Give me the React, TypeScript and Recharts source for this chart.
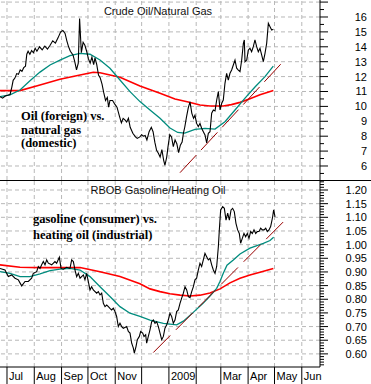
import React from 'react';
import { LineChart, Line, XAxis, YAxis, ReferenceLine } from 'recharts';

// x values are calendar days counted from 1 Jul 2008
const monthStartDays = [0, 31, 62, 92, 123, 153, 184, 215, 243, 274, 304, 335];
const monthLabels = ['Jul', 'Aug', 'Sep', 'Oct', 'Nov', '', '2009', '', 'Mar', 'Apr', 'May', 'Jun'];

const oilGasTickLabels = [6, 7, 8, 9, 10, 11, 12, 13, 14, 15, 16];
const oilGasGridValues = [6, 7, 8, 9, 10, 11, 12, 13, 14, 15, 16, 17];
const gasHeatTickLabels = [0.6, 0.65, 0.7, 0.75, 0.8, 0.85, 0.9, 0.95, 1.0, 1.05, 1.1, 1.15, 1.2];

// Crude Oil / Natural Gas ratio
const oilGasRatio: [number, number][] = [
  [-8, 10.65], [-5, 10.55], [-2, 10.7], [1, 10.75], [3.5, 10.8], [5.5, 11.3], [7, 11.75], [9, 11.9],
  [11, 12.2], [13, 12.15], [15, 12.45], [17, 12.35], [19, 12.6], [21, 12.7], [22.5, 13.5], [24, 13.7],
  [26, 13.5], [28, 13.75], [30, 13.6], [32, 13.9], [34, 13.7], [37, 14.0], [40, 13.8], [43, 14.05],
  [46, 13.85], [49, 14.1], [52, 14.4], [55, 14.25], [58, 14.6], [61, 15.0], [63.5, 15.1], [66, 14.9],
  [68, 14.4], [70, 14.0], [72, 13.7], [75, 13.45], [77, 13.0], [79, 12.45], [81, 12.9], [82.5, 15.9],
  [84.5, 13.6], [86.5, 14.3], [88.5, 14.1], [90.5, 13.7], [92.5, 13.2], [94.5, 12.9], [96.5, 13.3],
  [98.5, 12.8], [100, 13.25], [102, 12.8], [104, 12.1], [106, 11.9], [108, 11.5], [110, 10.9],
  [112, 10.4], [114, 10.6], [115.5, 9.95], [117, 10.4], [120, 10.4], [122.5, 10.15], [125, 9.95],
  [128, 9.3], [130, 8.9], [132, 9.2], [134, 9.1], [136, 8.95], [138, 9.2], [140, 8.6], [143, 8.2],
  [146, 7.95], [148, 7.85], [151, 7.95], [153, 8.1], [155, 8.0], [157, 8.05], [159, 7.75], [161.5, 8.3],
  [164, 8.6], [166, 8.3], [168, 7.6], [170, 7.05], [172, 6.85], [174, 6.6], [176, 7.1], [178, 6.4],
  [179.5, 6.05], [181.5, 6.6], [183, 7.3], [185, 8.1], [187, 7.95], [189, 7.3], [191, 7.75], [193, 7.5],
  [195, 6.9], [197, 7.4], [199, 7.6], [200.5, 8.2], [202, 8.6], [204, 9.3], [206, 9.9], [208, 10.3],
  [210, 9.55], [212, 9.2], [213.6, 9.4], [215.5, 8.86], [217.4, 8.64], [219.3, 8.86], [221.2, 8.53],
  [223.1, 8.3], [225, 8.08], [226.9, 7.55], [228.8, 8.19], [230.7, 8.3], [232.6, 9.54], [234.5, 9.76],
  [236.4, 9.7], [238.3, 10.43], [240.2, 10.99], [242.1, 9.76], [244, 10.21], [245.8, 10.43],
  [247.7, 11.55], [249.6, 12.22], [251.5, 11.77], [253.4, 12.22], [255.3, 12.44], [257.2, 12.78],
  [259.1, 13.11], [261, 12.56], [262.9, 12.44], [264.8, 12.33], [266.7, 13.11], [268.6, 14.23],
  [269.7, 14.46], [270.5, 13.0], [272.4, 13.11], [274.3, 13.79], [276.1, 13.9], [278, 13.67],
  [279.9, 14.01], [281.8, 14.46], [283.7, 14.01], [285.6, 13.67], [287.5, 13.9], [289.4, 13.45],
  [291.3, 13.0], [293.2, 13.56], [295.1, 14.23], [297, 15.58], [298.9, 15.35], [300.8, 15.13], [302.7, 15.17],
];
const oilGasShortAvg: [number, number][] = [
  [-8, 10.65], [3.4, 10.77], [14.8, 11.1], [26.1, 11.72], [37.5, 12.3], [48.9, 12.78], [60.2, 13.11],
  [71.6, 13.41], [83, 13.56], [94.3, 13.5], [105.7, 13.11], [117, 12.56], [128.4, 11.77], [139.8, 10.99],
  [151.1, 10.32], [162.5, 9.76], [173.9, 9.2], [185.2, 8.55], [194, 8.25], [202, 8.2], [213.6, 8.46],
  [225, 8.53], [236.4, 8.48], [247.7, 8.97], [259.1, 9.76], [270.5, 10.55], [281.8, 11.3], [293.2, 12.0],
  [302.6, 12.7],
];
const oilGasLongAvg: [number, number][] = [
  [-8, 11.06], [14.8, 11.06], [37.5, 11.44], [60.2, 11.82], [83, 12.11], [98.1, 12.29], [105.7, 12.26],
  [128.4, 11.95], [151.1, 11.37], [173.9, 10.88], [190.9, 10.5], [206, 10.3], [219.3, 10.09],
  [230.7, 10.03], [245.8, 10.03], [255, 10.12], [264.8, 10.27], [276.1, 10.52], [287.5, 10.78], [302.7, 11.06],
];
const oilGasTrend: [number, number][] = [[196.6, 5.55], [314.8, 13.07]];

// RBOB Gasoline / Heating Oil ratio
const gasHeatRatio: [number, number][] = [
  [-8, 0.913], [-2.3, 0.907], [1.5, 0.883], [5.3, 0.889], [9.1, 0.877], [12.9, 0.871], [16.7, 0.849],
  [20.5, 0.865], [24.2, 0.865], [28, 0.877], [29.9, 0.895], [33.7, 0.901], [35.6, 0.92], [37.5, 0.913],
  [39.4, 0.926], [41.3, 0.938], [43.2, 0.926], [45.1, 0.944], [47, 0.932], [50.8, 0.926], [54.5, 0.938],
  [56.4, 0.932], [59.5, 0.954], [61.4, 0.913], [64, 0.91], [67.8, 0.917], [71.6, 0.913], [73.5, 0.944],
  [75.4, 0.938], [77.3, 0.907], [79.2, 0.883], [81.1, 0.895], [83, 0.877], [86.8, 0.889], [88.6, 0.871],
  [90.5, 0.895], [92.4, 0.865], [94.3, 0.834], [96.2, 0.846], [98.1, 0.834], [101.9, 0.822],
  [103.8, 0.828], [105.7, 0.816], [107.6, 0.822], [109.5, 0.785], [111.4, 0.773], [113.3, 0.779],
  [115.2, 0.773], [117, 0.767], [118.9, 0.761], [120.8, 0.767], [122.7, 0.755], [124.6, 0.737],
  [126.5, 0.7], [128.4, 0.712], [130.3, 0.7], [132.2, 0.694], [136, 0.7], [137.9, 0.682], [139.8, 0.676],
  [141.7, 0.639], [143.6, 0.621], [144.7, 0.603], [146.6, 0.627], [148.1, 0.652], [150.4, 0.664],
  [151.9, 0.682], [154.2, 0.676], [155.7, 0.664], [157.6, 0.67], [158.7, 0.639], [160.6, 0.664],
  [162.5, 0.688], [164.4, 0.718], [166.3, 0.724], [168.2, 0.712], [170.1, 0.718], [172, 0.7],
  [173.9, 0.676], [175.8, 0.652], [177.7, 0.664], [179.5, 0.694], [181.4, 0.706], [183.3, 0.724],
  [185.2, 0.749], [187.1, 0.737], [189, 0.712], [190.9, 0.724], [192.8, 0.755], [194.7, 0.761],
  [196.6, 0.785], [198.5, 0.804], [200.4, 0.822], [202.3, 0.846], [204.2, 0.834], [206.1, 0.81],
  [208, 0.806], [209.9, 0.828], [211.8, 0.846], [213.6, 0.871], [215.5, 0.877], [217.4, 0.907],
  [219.3, 0.932], [221.2, 0.92], [223.1, 0.944], [225, 0.968], [226.9, 0.956], [228.8, 0.944],
  [230.7, 0.95], [232.6, 0.926], [234.5, 0.907], [236.4, 0.895], [238.3, 0.92], [240.2, 0.993],
  [241.3, 1.054], [242.8, 1.127], [245.1, 1.139], [247, 1.133], [248.9, 1.09], [250.8, 1.115],
  [252.7, 1.09], [254.6, 1.127], [256.4, 1.133], [258.3, 1.121], [260.2, 1.078], [262.1, 1.054],
  [264, 1.041], [265.5, 1.005], [267.4, 1.023], [269.3, 1.041], [271.2, 1.029], [273.1, 1.041],
  [275, 1.023], [276.9, 1.048], [278.8, 1.041], [280.7, 1.054], [282.6, 1.041], [284.5, 1.048],
  [286.4, 1.048], [288.3, 1.06], [290.2, 1.054], [292.1, 1.054], [294, 1.06], [295.8, 1.048],
  [297.7, 1.054], [299.6, 1.066], [300.8, 1.084], [301.9, 1.102], [303, 1.127], [304.6, 1.102],
];
const gasHeatShortAvg: [number, number][] = [
  [-8, 0.901], [3.4, 0.895], [14.8, 0.883], [26.1, 0.883], [37.5, 0.893], [48.9, 0.905], [60.2, 0.91],
  [71.6, 0.913], [83, 0.907], [94.3, 0.883], [105.7, 0.846], [117, 0.81], [128.4, 0.773], [139.8, 0.749],
  [151.1, 0.737], [162.5, 0.724], [177.7, 0.712], [192.8, 0.706], [200.4, 0.72], [211.7, 0.752],
  [223.1, 0.786], [230.7, 0.812], [238.3, 0.84], [242, 0.865], [245.8, 0.895], [250, 0.925],
  [257.2, 0.944], [264.8, 0.966], [276.1, 0.987], [291.3, 1.005], [298.9, 1.015], [303, 1.027],
];
const gasHeatLongAvg: [number, number][] = [
  [-8, 0.926], [14.8, 0.917], [37.5, 0.916], [60.2, 0.916], [83, 0.916], [105.7, 0.901], [128.4, 0.883],
  [151.1, 0.857], [162.5, 0.838], [173.9, 0.828], [185.2, 0.82], [196.6, 0.815], [208, 0.812],
  [219.3, 0.815], [230.7, 0.823], [242.1, 0.838], [253.4, 0.86], [264.8, 0.877], [276.1, 0.889],
  [287.5, 0.899], [302.7, 0.913],
];
const gasHeatTrend: [number, number][] = [[166.3, 0.605], [317, 1.093]];

const toRows = (a: [number, number][]) => a.map(([d, v]) => ({ d, v }));

const X_DOMAIN: [number, number] = [-7.95, 355.7];
const SANS = "Arial, 'Liberation Sans', sans-serif";
const SERIF = "'Times New Roman', 'Liberation Serif', serif";
const GRID = '#b8b8b8';
const TEAL = '#008c7e';
const RED = '#ff0000';
const TREND = '#990000';

const range = (from: number, to: number, step: number) => {
  const out: number[] = [];
  const n = Math.round((to - from) / step);
  for (let i = 0; i <= n; i++) out.push(Math.round((from + i * step) * 1000) / 1000);
  return out;
};

function makeYTick(labels: number[], majorStep: number, digits: number) {
  return (props: any) => {
    const { x, y, payload } = props;
    const v = payload.value as number;
    const major = Math.abs(v / majorStep - Math.round(v / majorStep)) < 1e-6;
    const lab = labels.find((l) => Math.abs(l - v) < 1e-6);
    return (
      <g>
        <line x1={x} x2={x + (major ? 8 : 4)} y1={y} y2={y} stroke="#000" strokeWidth={1} />
        {lab !== undefined && (
          <text x={x + 47} y={y + 4} textAnchor="end" fontSize={11} fontFamily={SANS} fill="#000">
            {lab.toFixed(digits)}
          </text>
        )}
      </g>
    );
  };
}

const MonthTick = (props: any) => {
  const { x, y, payload } = props;
  const idx = monthStartDays.indexOf(payload.value);
  return (
    <g>
      <line x1={x} x2={x} y1={y} y2={y + 17} stroke="#000" />
      <text x={x + 2} y={y + 13} fontSize={11} fontFamily={SANS} fill="#000">
        {monthLabels[idx]}
      </text>
    </g>
  );
};

const OilTick = makeYTick(oilGasTickLabels, 1, 0);
const GasTick = makeYTick(gasHeatTickLabels, 0.05, 2);

export default function App() {
  const vGrid = monthStartDays.map((d) => (
    <ReferenceLine key={'v' + d} x={d} stroke={GRID} strokeDasharray="4 3" />
  ));
  return (
    <div style={{ position: 'absolute', left: 0, top: 0, width: 371, height: 384, background: '#fff', overflow: 'hidden' }}>
      <div style={{ position: 'absolute', left: 0, top: 0 }}>
        <LineChart width={371} height={180} margin={{ top: 0, right: 0, bottom: 0, left: 0 }}>
          <XAxis dataKey="d" type="number" domain={X_DOMAIN} allowDataOverflow hide />
          <YAxis
            orientation="right"
            width={51}
            type="number"
            domain={[5.06, 17.14]}
            allowDataOverflow
            ticks={range(5.5, 17, 0.5)}
            interval={0}
            tick={OilTick}
            tickLine={false}
            tickSize={0}
            tickMargin={0}
            axisLine={{ stroke: '#000' }}
          />
          {vGrid}
          {oilGasGridValues.map((v) => (
            <ReferenceLine key={'h' + v} y={v} stroke={GRID} strokeDasharray="4 3" />
          ))}
          <Line data={toRows(oilGasLongAvg)} dataKey="v" stroke={RED} strokeWidth={1.6} dot={false} activeDot={false} isAnimationActive={false} />
          <Line data={toRows(oilGasShortAvg)} dataKey="v" stroke={TEAL} strokeWidth={1.3} dot={false} activeDot={false} isAnimationActive={false} />
          <Line data={toRows(oilGasTrend)} dataKey="v" stroke={TREND} strokeWidth={1} strokeDasharray="24 7" dot={false} activeDot={false} isAnimationActive={false} />
          <Line data={toRows(oilGasRatio)} dataKey="v" stroke="#000" strokeWidth={1.1} dot={false} activeDot={false} isAnimationActive={false} />
        </LineChart>
      </div>
      <div style={{ position: 'absolute', left: 0, top: 181 }}>
        <LineChart width={371} height={203} margin={{ top: 0, right: 0, bottom: 0, left: 0 }}>
          <XAxis
            dataKey="d"
            type="number"
            domain={X_DOMAIN}
            allowDataOverflow
            ticks={monthStartDays}
            interval={0}
            tick={MonthTick}
            tickLine={false}
            tickSize={0}
            tickMargin={0}
            height={17}
            axisLine={{ stroke: '#000' }}
          />
          <YAxis
            orientation="right"
            width={51}
            type="number"
            domain={[0.552, 1.233]}
            allowDataOverflow
            ticks={range(0.56, 1.23, 0.01)}
            interval={0}
            tick={GasTick}
            tickLine={false}
            tickSize={0}
            tickMargin={0}
            axisLine={{ stroke: '#000' }}
          />
          {vGrid}
          {gasHeatTickLabels.map((v) => (
            <ReferenceLine key={'h' + v} y={v} stroke={GRID} strokeDasharray="4 3" />
          ))}
          <Line data={toRows(gasHeatLongAvg)} dataKey="v" stroke={RED} strokeWidth={1.6} dot={false} activeDot={false} isAnimationActive={false} />
          <Line data={toRows(gasHeatShortAvg)} dataKey="v" stroke={TEAL} strokeWidth={1.3} dot={false} activeDot={false} isAnimationActive={false} />
          <Line data={toRows(gasHeatTrend)} dataKey="v" stroke={TREND} strokeWidth={1} strokeDasharray="24 8" dot={false} activeDot={false} isAnimationActive={false} />
          <Line data={toRows(gasHeatRatio)} dataKey="v" stroke="#000" strokeWidth={1.1} dot={false} activeDot={false} isAnimationActive={false} />
        </LineChart>
      </div>
      <svg width={371} height={384} style={{ position: 'absolute', left: 0, top: 0, pointerEvents: 'none' }}>
        <line x1={0} x2={371} y1={180.5} y2={180.5} stroke="#000" strokeWidth={1} />
        <text x={158} y={15} textAnchor="middle" fontSize={11} fontFamily={SANS} fill="#111">Crude Oil/Natural Gas</text>
        <text x={158} y={194} textAnchor="middle" fontSize={11} fontFamily={SANS} fill="#111">RBOB Gasoline/Heating Oil</text>
        <g fontFamily={SERIF} fontWeight="bold" fontSize={12.5} fill="#000">
          <text x={21} y={120}>Oil (foreign) vs.</text>
          <text x={21} y={133.5}>natural gas</text>
          <text x={21} y={147}>(domestic)</text>
          <text x={33} y={222.5}>gasoline (consumer) vs.</text>
          <text x={33} y={238.5}>heating oil (industrial)</text>
        </g>
      </svg>
    </div>
  );
}
